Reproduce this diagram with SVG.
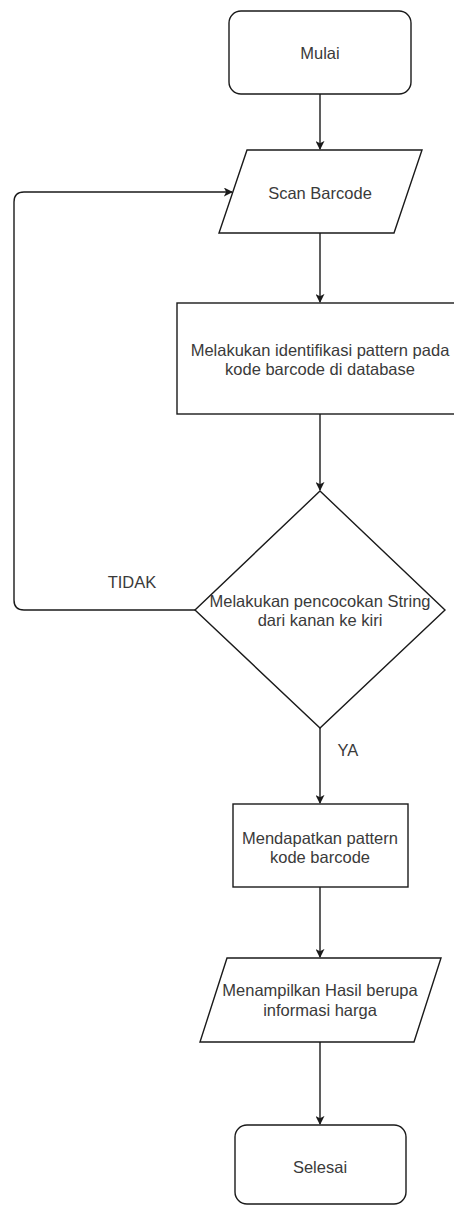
<svg xmlns="http://www.w3.org/2000/svg" width="454" height="1205" viewBox="0 0 454 1205">
  <style>
    .shape { fill: #ffffff; stroke: #1a1a1a; stroke-width: 1.4; }
    .edge { fill: none; stroke: #1a1a1a; stroke-width: 1.4; }
    .label { font-family: "Liberation Sans", Arial, sans-serif; font-size: 16.5px; fill: #3a3a3a; text-anchor: middle; dominant-baseline: central; }
  </style>
  <defs>
    <marker id="arrow" viewBox="0 0 10 10" refX="9" refY="5" markerWidth="9" markerHeight="9" markerUnits="userSpaceOnUse" orient="auto">
      <path d="M0,0 L10,5 L0,10 L2.5,5 Z" fill="#1a1a1a"/>
    </marker>
  </defs>
  <rect width="454" height="1205" fill="#ffffff"/>

  <g id="connectors">
    <path class="edge" d="M320,94 V149" marker-end="url(#arrow)"/>
    <path class="edge" d="M320,233 V302" marker-end="url(#arrow)"/>
    <path class="edge" d="M320,414 V490" marker-end="url(#arrow)"/>
    <path class="edge" d="M195,610 H24 Q14,610 14,600 V202 Q14,192 24,192 H232" marker-end="url(#arrow)"/>
    <path class="edge" d="M320,728 V803" marker-end="url(#arrow)"/>
    <path class="edge" d="M320,887 V957" marker-end="url(#arrow)"/>
    <path class="edge" d="M320,1042 V1124" marker-end="url(#arrow)"/>
    <text class="label" x="132" y="582">TIDAK</text>
    <text class="label" x="348" y="750">YA</text>
  </g>

  <g id="start">
    <rect class="shape" x="229" y="11" width="182" height="83" rx="12" ry="12"/>
    <text class="label" x="320" y="53">Mulai</text>
  </g>

  <g id="scan">
    <polygon class="shape" points="247,150 422,150 394,233 219,233"/>
    <text class="label" x="320" y="193">Scan Barcode</text>
  </g>

  <g id="identify">
    <rect class="shape" x="177" y="303" width="290" height="111"/>
    <text class="label" x="320" y="350">Melakukan identifikasi pattern pada</text>
    <text class="label" x="320" y="369">kode barcode di database</text>
  </g>

  <g id="match">
    <polygon class="shape" points="320,491 445,610 320,728 195,610"/>
    <text class="label" x="320" y="601">Melakukan pencocokan String</text>
    <text class="label" x="320" y="620">dari kanan ke kiri</text>
  </g>

  <g id="pattern">
    <rect class="shape" x="233" y="804" width="175" height="83"/>
    <text class="label" x="320" y="838">Mendapatkan pattern</text>
    <text class="label" x="320" y="857">kode barcode</text>
  </g>

  <g id="output">
    <polygon class="shape" points="227,958 441,958 414,1042 200,1042"/>
    <text class="label" x="320" y="990">Menampilkan Hasil berupa</text>
    <text class="label" x="320" y="1010">informasi harga</text>
  </g>

  <g id="end">
    <rect class="shape" x="235" y="1125" width="171" height="79" rx="12" ry="12"/>
    <text class="label" x="320" y="1167">Selesai</text>
  </g>
</svg>
